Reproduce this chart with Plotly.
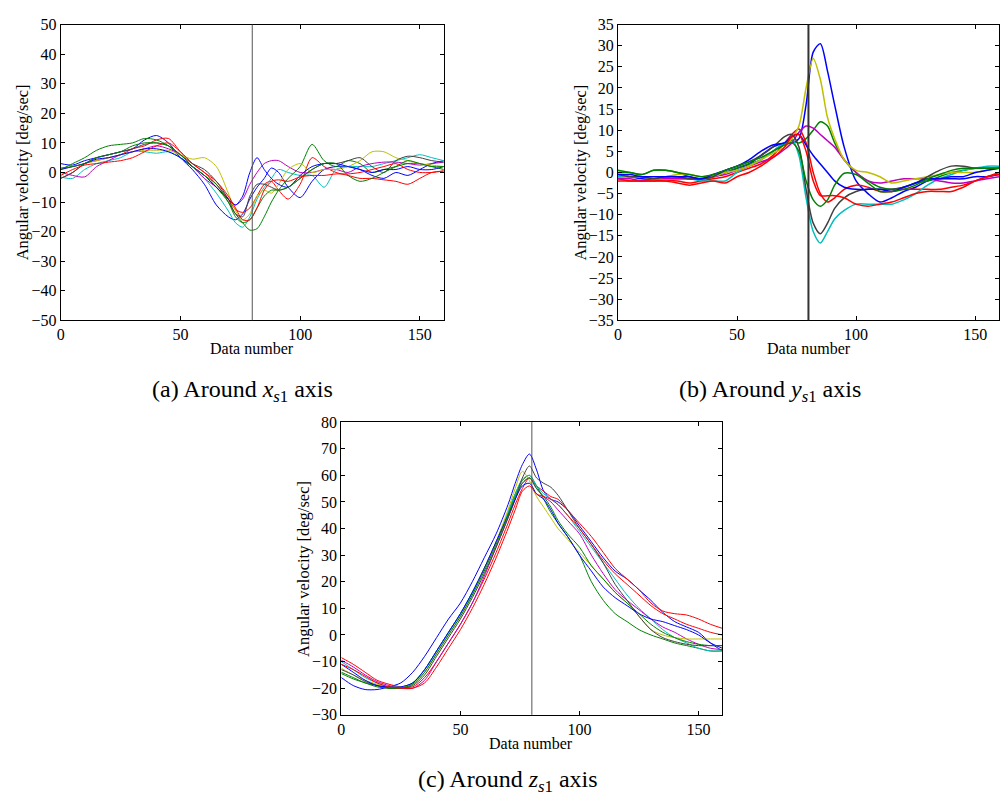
import plotly.graph_objects as go

# ---------------- data ----------------
X = [0, 5, 10, 15, 20, 25, 30, 35, 40, 45, 50, 55, 60, 65, 70, 73, 76, 79, 82, 85,
     88, 91, 95, 100, 105, 110, 115, 120, 125, 130, 135, 140, 145, 150, 155, 160]
MARK_X = 80

# (a) around x_s1 axis
xa_blue1 = [3, 2.5, 4, 5, 6, 7, 8, 11, 12.5, 10, 5, 1, -4, -11, -15, -16, -14, -9, -5, -2,
            1.5, 0, -5, -8.5, -3, 1, 2, 2, 1, -1, -2, 0, -1, 1, 3, 4]
xa_green1 = [1, 3, 5, 7.5, 9, 9.5, 10, 11.5, 11, 9, 5, 2, -1, -5, -10, -14, -17, -19.5, -19, -15,
             -10, -6, -2, 2, 9.5, 4, 2, 4, 3, 0, 1, 2, 3, 3, 2, 1]
xa_red1 = [-2, 0, 3, 4, 5, 6, 8, 9, 11, 11.5, 7, 3, 0, -4, -9, -12.5, -13.5, -12, -8, -4,
           -3, -6, -9, -4, 5, 2, 0, -1, -2, -2, -2.5, -3, -4, -2, 0, 0.5]
xa_cyan = [-1.5, -2, 1, 3, 4, 5, 7, 7, 6.5, 7, 5, 2, -2, -7, -13, -17, -18.5, -15, -9, -5,
           -2, 1, 0, -1, -1, -5, 1, 2, 2, 2, 3, 4, 5, 6, 5, 4]
xa_magenta = [0, -1, -1.5, 2, 4, 6, 7, 8, 9, 8, 6, 2, -2, -5, -9, -11, -9, -4, 0, 3,
              4, 4, 2, 0, 0, 1, 1, 0, 2, 3, 3.5, 3.5, 3, 2.5, 3, 3.5]
xa_yellow = [1, 2, 3, 4, 5, 6, 7, 7.5, 7.5, 7.5, 6, 4.5, 5, 2, -7, -13, -16, -14, -8, -6,
             -7, -4, 1, 3, 0, 1, 1, 2, 4, 7, 7, 5, 4, 3, 2.5, 2]
xa_black = [-2, 0, 3, 5, 6, 7, 8, 9.5, 10, 9, 6, 3, 1, -3, -9, -14, -15, -8, -4, -4,
            -5, -6, -5, -2, 1, 3, 3, 4, 5, 2, 0, 4, 5.5, 5, 4, 3.5]
xa_blue2 = [1, 2, 3, 4.5, 5, 6, 7, 8, 8, 7, 5, 2, -1, -5, -9, -11, -8, 0, 5, 1,
            -2, -4, -5, -1, 2, 3, 3, 2, 1, 0, 1, 1, 2, 1, 1, 2]
xa_green2 = [1.5, 2, 3, 5, 6, 7, 9, 10, 10, 9, 6, 2, -1, -4, -10, -15, -17, -16, -12, -8,
             -6, -6, -5, -2, 1, 3, 3, -1, -3, -2, 0, 2, 4, 3, 2, 2]
xa_red2 = [-1, 1, 2.5, 3, 3.5, 4, 5, 7, 9, 10, 7, 3, 0, -3, -8, -12, -16, -16, -12, -6,
           -3, -2.5, -3, -1.5, -1, -1, -0.5, -0.5, 0, 1, 2, 3, 1, 0, 0, 0.5]

# (b) around y_s1 axis
yb_blue1 = [-1, -1, -1.5, -1.5, -1, -1, -1.5, -1.5, -1, 0, 1, 2, 4, 6, 7, 7, 8, 16, 28.5, 30.5,
            24, 16, 6, -2, -5, -7, -6, -4.5, -3.5, -2, -1.5, -1.5, -1.5, -1, -1, -0.5]
yb_green1 = [0, 0, -0.5, 0.5, 0.5, 0, -1, -1.5, -1, 0, 1, 2, 3, 5, 7, 7.5, 7, 8, 10, 12,
             11, 7, 3, 0, -2, -3.5, -4, -3.5, -2.5, -2, -1, 0, 0.5, 1, 1, 1]
yb_red1 = [-1.5, -2, -2, -2, -2, -2, -2.5, -2, -1.5, -1, 0, 1, 2, 4, 7, 9, 10.3, 7, 0, -5,
           -7, -6, -4, -3, -3.5, -4.5, -4.5, -4, -4, -4, -4, -3.5, -3, -2, -1, -0.5]
yb_cyan = [-1, -1, -1, -1.5, -1.5, -1.5, -1.5, -2, -2, -2, 0, 1.5, 3, 5, 7, 8, 4, -6, -14, -16.7,
           -14, -11, -9, -7.5, -7.5, -7.5, -7.5, -6.5, -5, -3, -1.5, -0.5, 0.5, 1, 1.5, 1.5]
yb_magenta = [-1.5, -1.5, -2, -1.5, -1.5, -1.5, -1.5, -1.5, -1, -0.5, 0.5, 1.5, 2.5, 3.5, 5.5, 7, 9.5, 11, 10.5, 9,
              7.5, 6, 3, 0, -2, -2.5, -2, -1.5, -1.5, -1.5, -2, -2.5, -2.5, -2, -1.5, -1]
yb_yellow = [-0.5, -1, -1, -1.5, -1, -0.5, -0.5, -1, -1, 0, 0.5, 1.5, 3, 4.5, 6, 8, 11, 20, 27, 22,
             13, 8, 3, 0.5, 0, -1, -2.5, -2, -1.5, -1, -0.5, 0, 0, 0, 0.5, 1]
yb_black = [-0.5, -1, -1, -1.5, -1, -1, -1.5, -1.5, -1, 0.5, 1.5, 2.5, 4, 6, 8.5, 9, 6, -4, -12, -14.5,
            -12, -8.5, -6, -4.5, -4, -4, -4, -3.5, -2.5, -1, 0.5, 1.5, 1.5, 1, 1, 1]
yb_blue2 = [-0.5, -0.5, -1, -1, -1, -1, -1, -1.5, -0.5, 0.5, 1.5, 3, 5, 6.5, 7, 8.5, 9, 6.5, 4, 2,
            0, -2, -3.5, -4, -4, -4, -4.5, -3.5, -2.5, -1.5, -1.5, -1, -1, 0, 0.5, 1]
yb_green2 = [0.5, 0, -0.5, 0.5, 0.5, 0, -0.5, -1, -0.5, 0.5, 1.5, 2.5, 3.5, 5, 6.5, 7, 5, -2, -6.5, -8,
             -6.5, -3, -0.2, -0.5, -2.5, -4.5, -4.5, -4, -3, -1.5, -0.5, 0.5, 1, 1, 1, 1]
yb_red2 = [-2, -2, -2, -2, -2, -2.5, -3, -2.5, -2, -2.5, -1, 0, 1.5, 3.5, 6, 8.5, 9, 5, -2, -5.5,
           -5.5, -5.5, -6, -7.5, -8, -7.5, -7, -6, -5, -4.5, -4.5, -4.5, -3.5, -2, -1, 0]

# (c) around z_s1 axis
zc_blue1 = [-16, -19, -20.5, -20.5, -19.5, -18, -14, -8, -1, 6, 12, 20, 29, 38, 49, 57, 64, 68, 62, 54,
            51, 50, 47, 41, 35, 29, 24, 21, 17, 13, 8.5, 5, 3, 1, -3, -6]
zc_green1 = [-14, -16, -18, -19, -20, -20, -18, -13, -6, 1, 8, 16, 25, 35, 46, 53, 58, 60, 56, 51,
             46, 42, 37, 30, 20, 13, 8, 5, 2, 0, -1.5, -3, -4, -5, -6, -6]
zc_red1 = [-8.5, -11, -14, -17, -18.5, -19.5, -19.5, -16, -10, -3, 4, 12, 21, 31, 42, 49, 55, 59, 56, 54,
           52, 51, 47, 42, 37, 31, 25, 21, 17, 12, 9, 8, 7.5, 6, 4, 2.5]
zc_cyan = [-10, -13, -16, -18, -19.5, -19.5, -18, -13, -6, 1, 8, 16, 25, 35, 46, 53, 58.5, 60, 56, 53,
           51, 49, 45, 39, 33, 27, 21, 15, 10, 6, 2, -1, -3, -5, -6, -6]
zc_magenta = [-9.5, -12, -15, -17.5, -19, -20, -20, -17, -10, -3, 4, 12, 22, 33, 44, 51, 57, 59, 55, 52,
              50, 47, 43, 38, 30, 23, 17, 13, 9.5, 6, 3, 1, -1.5, -3.5, -5, -5.5]
zc_yellow = [-12.5, -15, -17, -18.5, -19.5, -19.5, -18.5, -14, -7, 0, 7, 15, 25, 35, 47, 55, 61.5, 58, 52, 48,
             44, 40, 36, 31, 26, 21, 16, 12, 7, 2, 0, -1, -1.5, -1.5, -1.5, -1.5]
zc_black = [-13, -15, -17.5, -19, -20, -20, -19, -15, -8, -1, 6, 14, 23, 33, 44, 51, 59, 63.5, 59, 57,
            55.5, 52.5, 47, 40, 34, 27, 19, 13, 7, 2, -1, -2.5, -3.5, -4, -4, -4]
zc_blue2 = [-11, -14, -17, -19, -19.5, -19.5, -18, -13, -6, 1, 8, 16, 25, 35, 45, 51, 56, 57, 53, 51,
            47, 42, 37, 30, 24, 18, 14, 11, 8, 6, 5, 3.5, 2, 0, -3, -5]
zc_green2 = [-14.5, -16.5, -18, -19.5, -20, -20, -18.5, -14, -7, 0, 7, 15, 24, 34, 45, 52, 57, 59, 55, 52,
             48, 43, 38, 33, 26, 21, 16, 12, 8, 4, 1, -1, -2.5, -3.5, -4, -4]
zc_red2 = [-11, -13, -15.5, -18, -19.5, -20, -20, -18, -12, -5, 2, 10, 19, 29, 40, 47, 54, 56, 53, 52,
           51, 49, 45, 40, 34, 28, 23, 19, 15, 11, 8, 6, 4, 2.5, 1, 0]

COLORS = ["#0000ff", "#008000", "#ff0000", "#00bfbf", "#bf00bf", "#bfbf00", "#404040",
          "#0000ff", "#008000", "#ff0000"]

PANEL_A = [xa_blue1, xa_green1, xa_red1, xa_cyan, xa_magenta, xa_yellow, xa_black, xa_blue2, xa_green2, xa_red2]
PANEL_B = [yb_blue1, yb_green1, yb_red1, yb_cyan, yb_magenta, yb_yellow, yb_black, yb_blue2, yb_green2, yb_red2]
PANEL_C = [zc_blue1, zc_green1, zc_red1, zc_cyan, zc_magenta, zc_yellow, zc_black, zc_blue2, zc_green2, zc_red2]

X_TICKS = [0, 50, 100, 150]
Y_TITLE = "Angular velocity [deg/sec]"
X_TITLE = "Data number"
CAPTIONS = ["(a) Around <i>x</i><sub><i>s</i>1</sub> axis",
            "(b) Around <i>y</i><sub><i>s</i>1</sub> axis",
            "(c) Around <i>z</i><sub><i>s</i>1</sub> axis"]

# ---------------- figure ----------------
W, H = 1000, 808
FONT = "Liberation Serif"
fig = go.Figure()

panels = [
    # data, xaxis, yaxis, x-domain px, y-domain px (top,bottom), yrange, dtick, width, vline width/color, xtitle x
    (PANEL_A, "x", "y", (57, 442), (17, 319), (-50, 50), 10, 1.0, 1.0, "#555555", 249),
    (PANEL_B, "x2", "y2", (617, 1000), (17, 319), (-35, 35), 5, 1.5, 2.0, "#333333", 809),
    (PANEL_C, "x3", "y3", (339, 722), (423, 722), (-30, 80), 10, 1.0, 1.0, "#555555", 530),
]


def px2fx(v):
    return v / W


def px2fy(v):
    return 1 - v / H


for i, (data, xa, ya, (l, r), (t, b), yr, dt, lw, vw, vc, xtx) in enumerate(panels):
    for series, col in zip(data, COLORS):
        fig.add_trace(go.Scatter(x=X, y=series, mode="lines", xaxis=xa, yaxis=ya,
                                 line=dict(color=col, width=lw, shape="spline", smoothing=0.8),
                                 showlegend=False, hoverinfo="skip"))
    suffix = "" if i == 0 else str(i + 1)
    common = dict(showgrid=False, zeroline=False, showline=True, linecolor="black", linewidth=1,
                  mirror="ticks", ticks="inside", ticklen=4, tickcolor="black",
                  tickfont=dict(family=FONT, size=16, color="black"))
    fig.layout["xaxis" + suffix] = dict(domain=[px2fx(l), px2fx(r)], range=[0, 160],
                                        tickvals=X_TICKS, anchor=ya, **common)
    fig.layout["yaxis" + suffix] = dict(domain=[px2fy(b), px2fy(t)], range=list(yr),
                                        dtick=dt, tick0=0, anchor=xa, **common)
    fig.add_shape(type="line", xref=xa, yref=ya + " domain", x0=MARK_X, x1=MARK_X, y0=0, y1=1,
                  line=dict(color=vc, width=vw), layer="above")
    # axis titles
    fig.add_annotation(text=Y_TITLE, textangle=-90, xref="paper", yref="paper",
                       x=px2fx(l - 38), y=px2fy((t + b) / 2), xanchor="center", yanchor="middle",
                       showarrow=False, font=dict(family=FONT, size=16.5, color="black"))
    fig.add_annotation(text=X_TITLE, xref="paper", yref="paper",
                       x=px2fx(xtx), y=px2fy(b + 29), xanchor="center", yanchor="middle",
                       showarrow=False, font=dict(family=FONT, size=16, color="black"))

cap_pos = [(240, 391), (770, 391), (507, 790)]
for txt, (cx, cy) in zip(CAPTIONS, cap_pos):
    fig.add_annotation(text=txt, xref="paper", yref="paper", x=px2fx(cx), y=px2fy(cy),
                       xanchor="center", yanchor="middle",
                       showarrow=False, font=dict(family=FONT, size=24, color="black"))

fig.update_layout(width=W, height=H, autosize=False, margin=dict(l=0, r=0, t=0, b=0),
                  paper_bgcolor="white", plot_bgcolor="white")

PIN_PAGE = (
    "document.documentElement.style.margin='0px';"
    "document.documentElement.style.overflow='hidden';"
    "document.body.style.margin='0px';"
    "document.body.style.overflow='hidden';"
    "var gd=document.getElementById('{plot_id}');"
    "gd.style.position='fixed';gd.style.left='0px';gd.style.top='0px';"
    "window.scrollTo(0,0);"
)

fig.write_html("out.html", config={"displayModeBar": False, "staticPlot": True, "responsive": False},
               post_script=PIN_PAGE)
